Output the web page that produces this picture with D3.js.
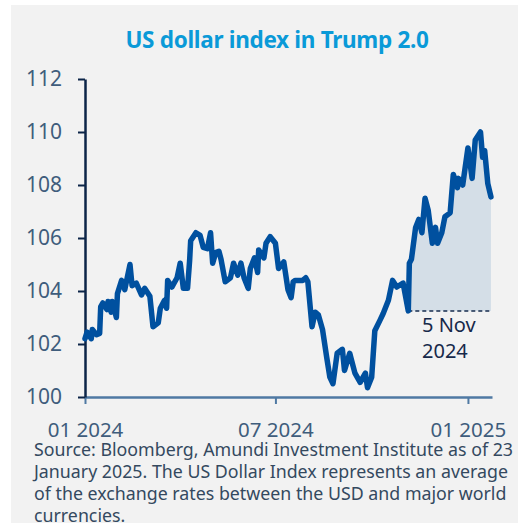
<!DOCTYPE html>
<html>
<head>
<meta charset="utf-8">
<script src="https://cdn.jsdelivr.net/npm/d3@7"></script>
<style>
  body { margin: 0; background: #fff; }
  svg { display: block; font-family: "Noto Sans", sans-serif; }
</style>
</head>
<body>
<div id="chart"></div>
<script>
// DXY closes (approximate)
const dates = [
  "2024-01-01","2024-01-03","2024-01-07","2024-01-08","2024-01-12","2024-01-15","2024-01-16","2024-01-18",
  "2024-01-22","2024-01-23","2024-01-26","2024-01-27","2024-01-31","2024-02-01","2024-02-05","2024-02-08",
  "2024-02-13","2024-02-15","2024-02-19","2024-02-24","2024-02-27","2024-03-03","2024-03-06","2024-03-11",
  "2024-03-13","2024-03-17","2024-03-19","2024-03-20","2024-03-24","2024-03-29","2024-04-01","2024-04-04",
  "2024-04-08","2024-04-10","2024-04-11","2024-04-16","2024-04-20","2024-04-23","2024-04-27","2024-04-30",
  "2024-05-02","2024-05-05","2024-05-08","2024-05-10","2024-05-14","2024-05-19","2024-05-22","2024-05-26",
  "2024-05-29","2024-06-01","2024-06-05","2024-06-07","2024-06-11","2024-06-14","2024-06-15","2024-06-20",
  "2024-06-22","2024-06-26","2024-07-01","2024-07-04","2024-07-09","2024-07-13","2024-07-16","2024-07-18",
  "2024-07-20","2024-07-27","2024-07-30","2024-08-01","2024-08-05","2024-08-08","2024-08-11","2024-08-15",
  "2024-08-19","2024-08-22","2024-08-25","2024-08-29","2024-09-03","2024-09-05","2024-09-10","2024-09-15",
  "2024-09-20","2024-09-25","2024-09-27","2024-10-01","2024-10-04","2024-10-09","2024-10-12","2024-10-17",
  "2024-10-21","2024-10-25","2024-10-31","2024-11-05","2024-11-06","2024-11-08","2024-11-12","2024-11-15",
  "2024-11-18","2024-11-21","2024-11-24","2024-11-28","2024-12-01","2024-12-03","2024-12-07","2024-12-10",
  "2024-12-15","2024-12-18","2024-12-22","2024-12-23","2024-12-27","2025-01-01","2025-01-05","2025-01-08",
  "2025-01-13","2025-01-15","2025-01-17","2025-01-20","2025-01-23"
];
const values = [
  102.2,102.45,102.2,102.55,102.35,102.4,103.4,103.55,
  103.3,103.6,103.2,103.6,103.0,103.9,104.4,104.05,
  105.0,104.2,104.3,103.85,104.1,103.8,102.65,102.8,
  103.35,103.65,103.35,104.4,104.15,104.5,105.05,104.1,
  104.1,105.15,105.9,106.2,106.1,105.65,105.6,106.2,
  105.05,105.45,105.5,105.2,104.35,104.5,105.05,104.6,
  105.05,104.5,104.1,104.85,105.25,104.7,105.55,105.25,
  105.8,106.05,105.8,104.85,105.1,104.05,103.75,104.35,
  104.4,104.4,104.5,104.35,102.65,103.2,103.1,102.55,
  101.5,100.75,100.5,101.65,101.8,101.0,101.65,100.9,
  100.55,100.9,100.35,100.75,102.5,102.9,103.15,103.65,
  104.4,104.15,104.3,103.25,105.05,105.2,106.4,106.7,
  106.2,107.5,107.05,105.8,106.4,105.8,106.2,106.8,
  106.95,108.4,107.9,108.25,108.0,109.4,108.25,109.7,
  110.0,109.05,109.3,108.05,107.55
];
const yTicks = [100, 102, 104, 106, 108, 110, 112];
const xTicks = ["2024-01-01", "2024-07-01", "2025-01-01"];
const electionDate = "2024-11-05";
const titleText = "US dollar index in Trump 2.0";
const noteLines = ["5 Nov", "2024"];
const sourceLines = [
  "Source: Bloomberg, Amundi Investment Institute as of 23",
  "January 2025. The US Dollar Index represents an average",
  "of the exchange rates between the USD and major world",
  "currencies."
];

const W = 518, H = 523;
const parse = d3.timeParse("%Y-%m-%d");
const data = dates.map((d, i) => ({date: parse(d), value: values[i]}));
const elec = parse(electionDate);
const base = data.find(d => +d.date === +elec).value;

const svg = d3.select("#chart").append("svg")
  .attr("width", W).attr("height", H);

// grey panel
svg.append("rect")
  .attr("x", 11).attr("y", 5)
  .attr("width", W - 11).attr("height", H - 5)
  .attr("fill", "#f2f2f2");

svg.append("text")
  .attr("x", 277).attr("y", 48)
  .attr("text-anchor", "middle")
  .style("font-size", "22.5px")
  .style("font-weight", "bold")
  .style("letter-spacing", "-0.3px")
  .style("fill", "#0a9ad8")
  .text(titleText);

const x = d3.scaleTime()
  .domain([parse("2024-01-01"), parse("2025-01-24")])
  .range([85, 492]);

const y = d3.scaleLinear()
  .domain([100, 112])
  .range([397, 79]);

// shaded area since the election
const after = data.filter(d => d.date >= elec);
svg.append("path")
  .datum(after)
  .attr("fill", "#d4dee7")
  .attr("d", d3.area()
    .x(d => x(d.date))
    .y0(y(base))
    .y1(d => y(d.value)));

svg.append("line")
  .attr("x1", x(elec)).attr("x2", 492)
  .attr("y1", y(base)).attr("y2", y(base))
  .attr("stroke", "#142b4d")
  .attr("stroke-width", 1.5)
  .attr("stroke-dasharray", "4,3");

const note = svg.append("text")
  .attr("x", 422).attr("y", 332)
  .style("font-size", "20px")
  .style("fill", "#17294a");
note.selectAll("tspan")
  .data(noteLines)
  .join("tspan")
  .attr("x", 422)
  .attr("dy", (d, i) => i ? 26 : 0)
  .text(d => d);

// x axis
const xAxis = svg.append("g")
  .attr("transform", "translate(0,397)")
  .call(d3.axisBottom(x)
    .tickValues(xTicks.map(parse))
    .tickFormat(d3.timeFormat("%m %Y"))
    .tickSize(7)
    .tickSizeOuter(0)
    .tickPadding(18));
xAxis.select(".domain").attr("stroke", "#4f79a3").attr("stroke-width", 2.5);
xAxis.selectAll(".tick line").attr("stroke", "#4f79a3").attr("stroke-width", 2);
xAxis.selectAll("text")
  .style("font-size", "20.5px")
  .style("font-family", "Noto Sans")
  .style("fill", "#3f5d7c");

// y axis
const yAxis = svg.append("g")
  .attr("transform", "translate(85,0)")
  .call(d3.axisLeft(y)
    .tickValues(yTicks)
    .tickSize(7)
    .tickSizeOuter(0)
    .tickPadding(16));
yAxis.select(".domain").attr("stroke", "#0c2548").attr("stroke-width", 2.5);
yAxis.selectAll(".tick line").attr("stroke", "#0c2548").attr("stroke-width", 2);
yAxis.selectAll("text")
  .style("font-size", "21px")
  .style("font-family", "Noto Sans")
  .style("fill", "#3f5d7c");

// line
svg.append("path")
  .datum(data)
  .attr("fill", "none")
  .attr("stroke", "#00509f")
  .attr("stroke-width", 5.5)
  .attr("stroke-linejoin", "round")
  .attr("stroke-linecap", "round")
  .attr("d", d3.line()
    .x(d => x(d.date))
    .y(d => y(d.value)));

const src = svg.append("text")
  .attr("x", 34).attr("y", 456)
  .style("font-size", "17.8px")
  .style("fill", "#34495f");
src.selectAll("tspan")
  .data(sourceLines)
  .join("tspan")
  .attr("x", 34)
  .attr("dy", (d, i) => i ? 22 : 0)
  .text(d => d);
</script>
</body>
</html>
